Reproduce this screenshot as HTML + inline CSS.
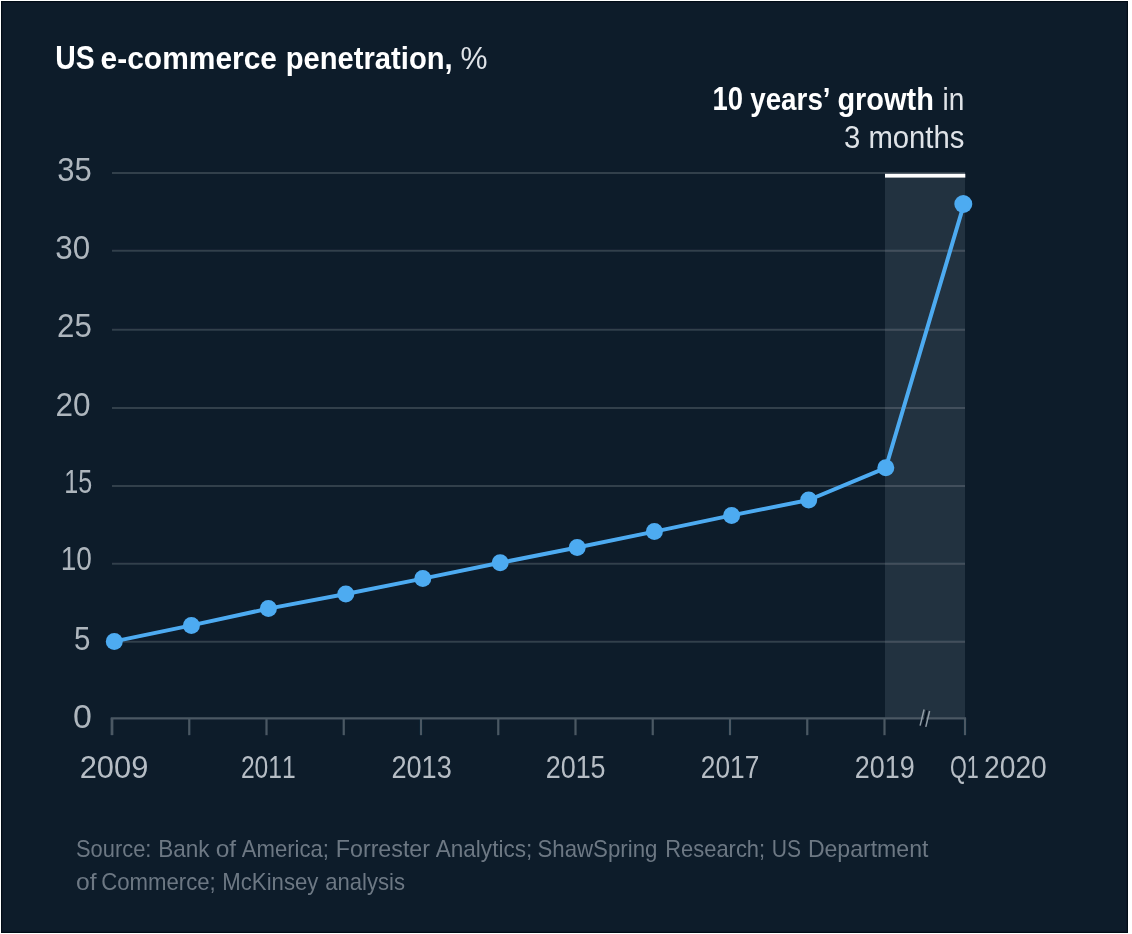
<!DOCTYPE html>
<html lang="en"><head><meta charset="utf-8"><title>US e-commerce penetration</title>
<style>html,body{margin:0;padding:0;background:#fff;}body{width:1132px;height:934px;overflow:hidden;}svg{display:block;font-family:"Liberation Sans",sans-serif;font-kerning:none;}text{white-space:pre;}</style></head><body>
<svg width="1132" height="934" viewBox="0 0 1132 934">
<defs><filter id="soft" x="0" y="0" width="1132" height="934" filterUnits="userSpaceOnUse"><feGaussianBlur stdDeviation="0.55"/></filter></defs>
<rect x="0" y="0" width="1132" height="934" fill="#ffffff"/>
<g filter="url(#soft)">
<rect x="1" y="1" width="1127" height="932" fill="#040e19"/>
<rect x="2.1" y="2.1" width="1124.8" height="929.8" fill="#0b1b2b"/>
<rect x="885" y="175" width="80" height="543.3" fill="#23323f"/>
<line x1="112" x2="965" y1="173" y2="173" stroke="#313f4c" stroke-width="2"/>
<line x1="112" x2="965" y1="250.8" y2="250.8" stroke="#313f4c" stroke-width="2"/>
<line x1="112" x2="965" y1="329.8" y2="329.8" stroke="#313f4c" stroke-width="2"/>
<line x1="112" x2="965" y1="407.9" y2="407.9" stroke="#313f4c" stroke-width="2"/>
<line x1="112" x2="965" y1="486" y2="486" stroke="#313f4c" stroke-width="2"/>
<line x1="112" x2="965" y1="563.8" y2="563.8" stroke="#313f4c" stroke-width="2"/>
<line x1="112" x2="965" y1="641.7" y2="641.7" stroke="#313f4c" stroke-width="2"/>
<line x1="885" x2="965" y1="250.8" y2="250.8" stroke="#424f5b" stroke-width="2"/>
<line x1="885" x2="965" y1="329.8" y2="329.8" stroke="#424f5b" stroke-width="2"/>
<line x1="885" x2="965" y1="407.9" y2="407.9" stroke="#424f5b" stroke-width="2"/>
<line x1="885" x2="965" y1="486" y2="486" stroke="#424f5b" stroke-width="2"/>
<line x1="885" x2="965" y1="563.8" y2="563.8" stroke="#424f5b" stroke-width="2"/>
<line x1="885" x2="965" y1="641.7" y2="641.7" stroke="#424f5b" stroke-width="2"/>
<rect x="885" y="173.8" width="80.3" height="3.8" fill="#ffffff"/>
<line x1="110.7" x2="966.1" y1="718.3" y2="718.3" stroke="#4b5964" stroke-width="2.3"/>
<line x1="112.00" x2="112.00" y1="718.3" y2="735.2" stroke="#4b5964" stroke-width="2.8"/>
<line x1="189.25" x2="189.25" y1="718.3" y2="735.2" stroke="#4b5964" stroke-width="2.2"/>
<line x1="266.50" x2="266.50" y1="718.3" y2="735.2" stroke="#4b5964" stroke-width="2.2"/>
<line x1="343.75" x2="343.75" y1="718.3" y2="735.2" stroke="#4b5964" stroke-width="2.2"/>
<line x1="421.00" x2="421.00" y1="718.3" y2="735.2" stroke="#4b5964" stroke-width="2.2"/>
<line x1="498.25" x2="498.25" y1="718.3" y2="735.2" stroke="#4b5964" stroke-width="2.2"/>
<line x1="575.50" x2="575.50" y1="718.3" y2="735.2" stroke="#4b5964" stroke-width="2.2"/>
<line x1="652.75" x2="652.75" y1="718.3" y2="735.2" stroke="#4b5964" stroke-width="2.2"/>
<line x1="730.00" x2="730.00" y1="718.3" y2="735.2" stroke="#4b5964" stroke-width="2.2"/>
<line x1="807.25" x2="807.25" y1="718.3" y2="735.2" stroke="#4b5964" stroke-width="2.2"/>
<line x1="884.50" x2="884.50" y1="718.3" y2="735.2" stroke="#4b5964" stroke-width="2.2"/>
<line x1="965.00" x2="965.00" y1="718.3" y2="735.2" stroke="#4b5964" stroke-width="2.2"/>
<polygon points="922.2,725.9 926.2,710 928,710.8 924.2,726.4" fill="#06111c"/>
<line x1="920.1" y1="725.6" x2="924.1" y2="709.5" stroke="#929da6" stroke-width="1.5"/>
<line x1="925.8" y1="726.9" x2="929.6" y2="711" stroke="#929da6" stroke-width="1.5"/>
<polyline fill="none" stroke="#4eabf1" stroke-width="4" stroke-linejoin="round" points="114.3,641.4 191.4,625.4 268.4,608.6 345.8,594 422.8,578.6 500.2,562.8 577.2,547.5 654.4,531.6 731.6,515.4 808.7,500 885.8,467.8 964,204"/>
<circle cx="114.3" cy="641.4" r="8.5" fill="#4eabf1"/>
<circle cx="191.4" cy="625.4" r="8.5" fill="#4eabf1"/>
<circle cx="268.4" cy="608.6" r="8.5" fill="#4eabf1"/>
<circle cx="345.8" cy="594" r="8.5" fill="#4eabf1"/>
<circle cx="422.8" cy="578.6" r="8.5" fill="#4eabf1"/>
<circle cx="500.2" cy="562.8" r="8.5" fill="#4eabf1"/>
<circle cx="577.2" cy="547.5" r="8.5" fill="#4eabf1"/>
<circle cx="654.4" cy="531.6" r="8.5" fill="#4eabf1"/>
<circle cx="731.6" cy="515.4" r="8.5" fill="#4eabf1"/>
<circle cx="808.7" cy="500" r="8.5" fill="#4eabf1"/>
<circle cx="885.8" cy="467.8" r="8.5" fill="#4eabf1"/>
<circle cx="963.3" cy="204" r="9" fill="#4eabf1"/>
<text x="55.20" y="68.60" font-size="34" font-weight="700" fill="#ffffff" textLength="39.40" lengthAdjust="spacingAndGlyphs">US</text>
<text x="100.60" y="68.60" font-size="30.5" font-weight="700" fill="#ffffff" textLength="176.40" lengthAdjust="spacingAndGlyphs">e-commerce</text>
<text x="285.70" y="68.60" font-size="30.5" font-weight="700" fill="#ffffff" textLength="167.00" lengthAdjust="spacingAndGlyphs">penetration,</text>
<text x="460.60" y="68.60" font-size="31" font-weight="400" fill="#dfe3e7" textLength="27.00" lengthAdjust="spacingAndGlyphs">%</text>
<text x="57.20" y="181.10" font-size="33" font-weight="400" fill="#aeb6bd" textLength="34.50" lengthAdjust="spacingAndGlyphs">35</text>
<text x="55.30" y="258.70" font-size="33" font-weight="400" fill="#aeb6bd" textLength="34.90" lengthAdjust="spacingAndGlyphs">30</text>
<text x="57.10" y="336.90" font-size="33" font-weight="400" fill="#aeb6bd" textLength="34.80" lengthAdjust="spacingAndGlyphs">25</text>
<text x="55.40" y="416.30" font-size="33" font-weight="400" fill="#aeb6bd" textLength="35.10" lengthAdjust="spacingAndGlyphs">20</text>
<text x="64.20" y="492.50" font-size="33" font-weight="400" fill="#aeb6bd" textLength="28.00" lengthAdjust="spacingAndGlyphs">15</text>
<text x="60.70" y="570.10" font-size="33" font-weight="400" fill="#aeb6bd" textLength="31.20" lengthAdjust="spacingAndGlyphs">10</text>
<text x="74.10" y="649.70" font-size="33" font-weight="400" fill="#aeb6bd" textLength="16.40" lengthAdjust="spacingAndGlyphs">5</text>
<text x="73.00" y="727.90" font-size="33" font-weight="400" fill="#aeb6bd" textLength="18.90" lengthAdjust="spacingAndGlyphs">0</text>
<text x="79.70" y="778.00" font-size="32" font-weight="400" fill="#b6bdc4" textLength="68.70" lengthAdjust="spacingAndGlyphs">2009</text>
<text x="240.90" y="778.00" font-size="32" font-weight="400" fill="#b6bdc4" textLength="54.87" lengthAdjust="spacingAndGlyphs">2011</text>
<text x="391.40" y="778.00" font-size="32" font-weight="400" fill="#b6bdc4" textLength="60.40" lengthAdjust="spacingAndGlyphs">2013</text>
<text x="545.70" y="778.00" font-size="32" font-weight="400" fill="#b6bdc4" textLength="59.90" lengthAdjust="spacingAndGlyphs">2015</text>
<text x="700.80" y="778.00" font-size="32" font-weight="400" fill="#b6bdc4" textLength="58.50" lengthAdjust="spacingAndGlyphs">2017</text>
<text x="854.70" y="778.00" font-size="32" font-weight="400" fill="#b6bdc4" textLength="60.00" lengthAdjust="spacingAndGlyphs">2019</text>
<text x="950.00" y="778.00" font-size="32" font-weight="400" fill="#b6bdc4" textLength="28.80" lengthAdjust="spacingAndGlyphs">Q1</text>
<text x="984.00" y="778.00" font-size="32" font-weight="400" fill="#b6bdc4" textLength="62.80" lengthAdjust="spacingAndGlyphs">2020</text>
<text x="712.40" y="110.40" font-size="33.5" font-weight="700" fill="#ffffff" textLength="30.50" lengthAdjust="spacingAndGlyphs">10</text>
<text x="750.20" y="110.40" font-size="31.5" font-weight="700" fill="#ffffff" textLength="80.40" lengthAdjust="spacingAndGlyphs">years’</text>
<text x="837.40" y="110.00" font-size="31" font-weight="700" fill="#ffffff" textLength="96.50" lengthAdjust="spacingAndGlyphs">growth</text>
<text x="942.60" y="110.00" font-size="31" font-weight="400" fill="#dfe3e7" textLength="21.80" lengthAdjust="spacingAndGlyphs">in</text>
<text x="844.00" y="147.90" font-size="31" font-weight="400" fill="#dfe3e7" textLength="120.40" lengthAdjust="spacingAndGlyphs">3 months</text>
<text x="76.00" y="857.40" font-size="24" font-weight="400" fill="#6d7883" textLength="75.40" lengthAdjust="spacingAndGlyphs">Source:</text>
<text x="158.20" y="857.40" font-size="24" font-weight="400" fill="#6d7883" textLength="51.44" lengthAdjust="spacingAndGlyphs">Bank</text>
<text x="215.70" y="857.40" font-size="24" font-weight="400" fill="#6d7883" textLength="20.44" lengthAdjust="spacingAndGlyphs">of</text>
<text x="241.70" y="857.40" font-size="24" font-weight="400" fill="#6d7883" textLength="87.30" lengthAdjust="spacingAndGlyphs">America;</text>
<text x="335.80" y="857.40" font-size="24" font-weight="400" fill="#6d7883" textLength="94.20" lengthAdjust="spacingAndGlyphs">Forrester</text>
<text x="435.70" y="857.40" font-size="24" font-weight="400" fill="#6d7883" textLength="96.60" lengthAdjust="spacingAndGlyphs">Analytics;</text>
<text x="537.50" y="857.40" font-size="24" font-weight="400" fill="#6d7883" textLength="119.90" lengthAdjust="spacingAndGlyphs">ShawSpring</text>
<text x="665.30" y="857.40" font-size="24" font-weight="400" fill="#6d7883" textLength="99.80" lengthAdjust="spacingAndGlyphs">Research;</text>
<text x="771.80" y="857.40" font-size="24" font-weight="400" fill="#6d7883" textLength="29.30" lengthAdjust="spacingAndGlyphs">US</text>
<text x="807.90" y="857.40" font-size="24" font-weight="400" fill="#6d7883" textLength="120.50" lengthAdjust="spacingAndGlyphs">Department</text>
<text x="76.00" y="890.10" font-size="24" font-weight="400" fill="#6d7883" textLength="20.54" lengthAdjust="spacingAndGlyphs">of</text>
<text x="101.20" y="890.10" font-size="24" font-weight="400" fill="#6d7883" textLength="114.60" lengthAdjust="spacingAndGlyphs">Commerce;</text>
<text x="222.30" y="890.10" font-size="24" font-weight="400" fill="#6d7883" textLength="96.10" lengthAdjust="spacingAndGlyphs">McKinsey</text>
<text x="325.20" y="890.10" font-size="24" font-weight="400" fill="#6d7883" textLength="79.90" lengthAdjust="spacingAndGlyphs">analysis</text>
</g></svg></body></html>
